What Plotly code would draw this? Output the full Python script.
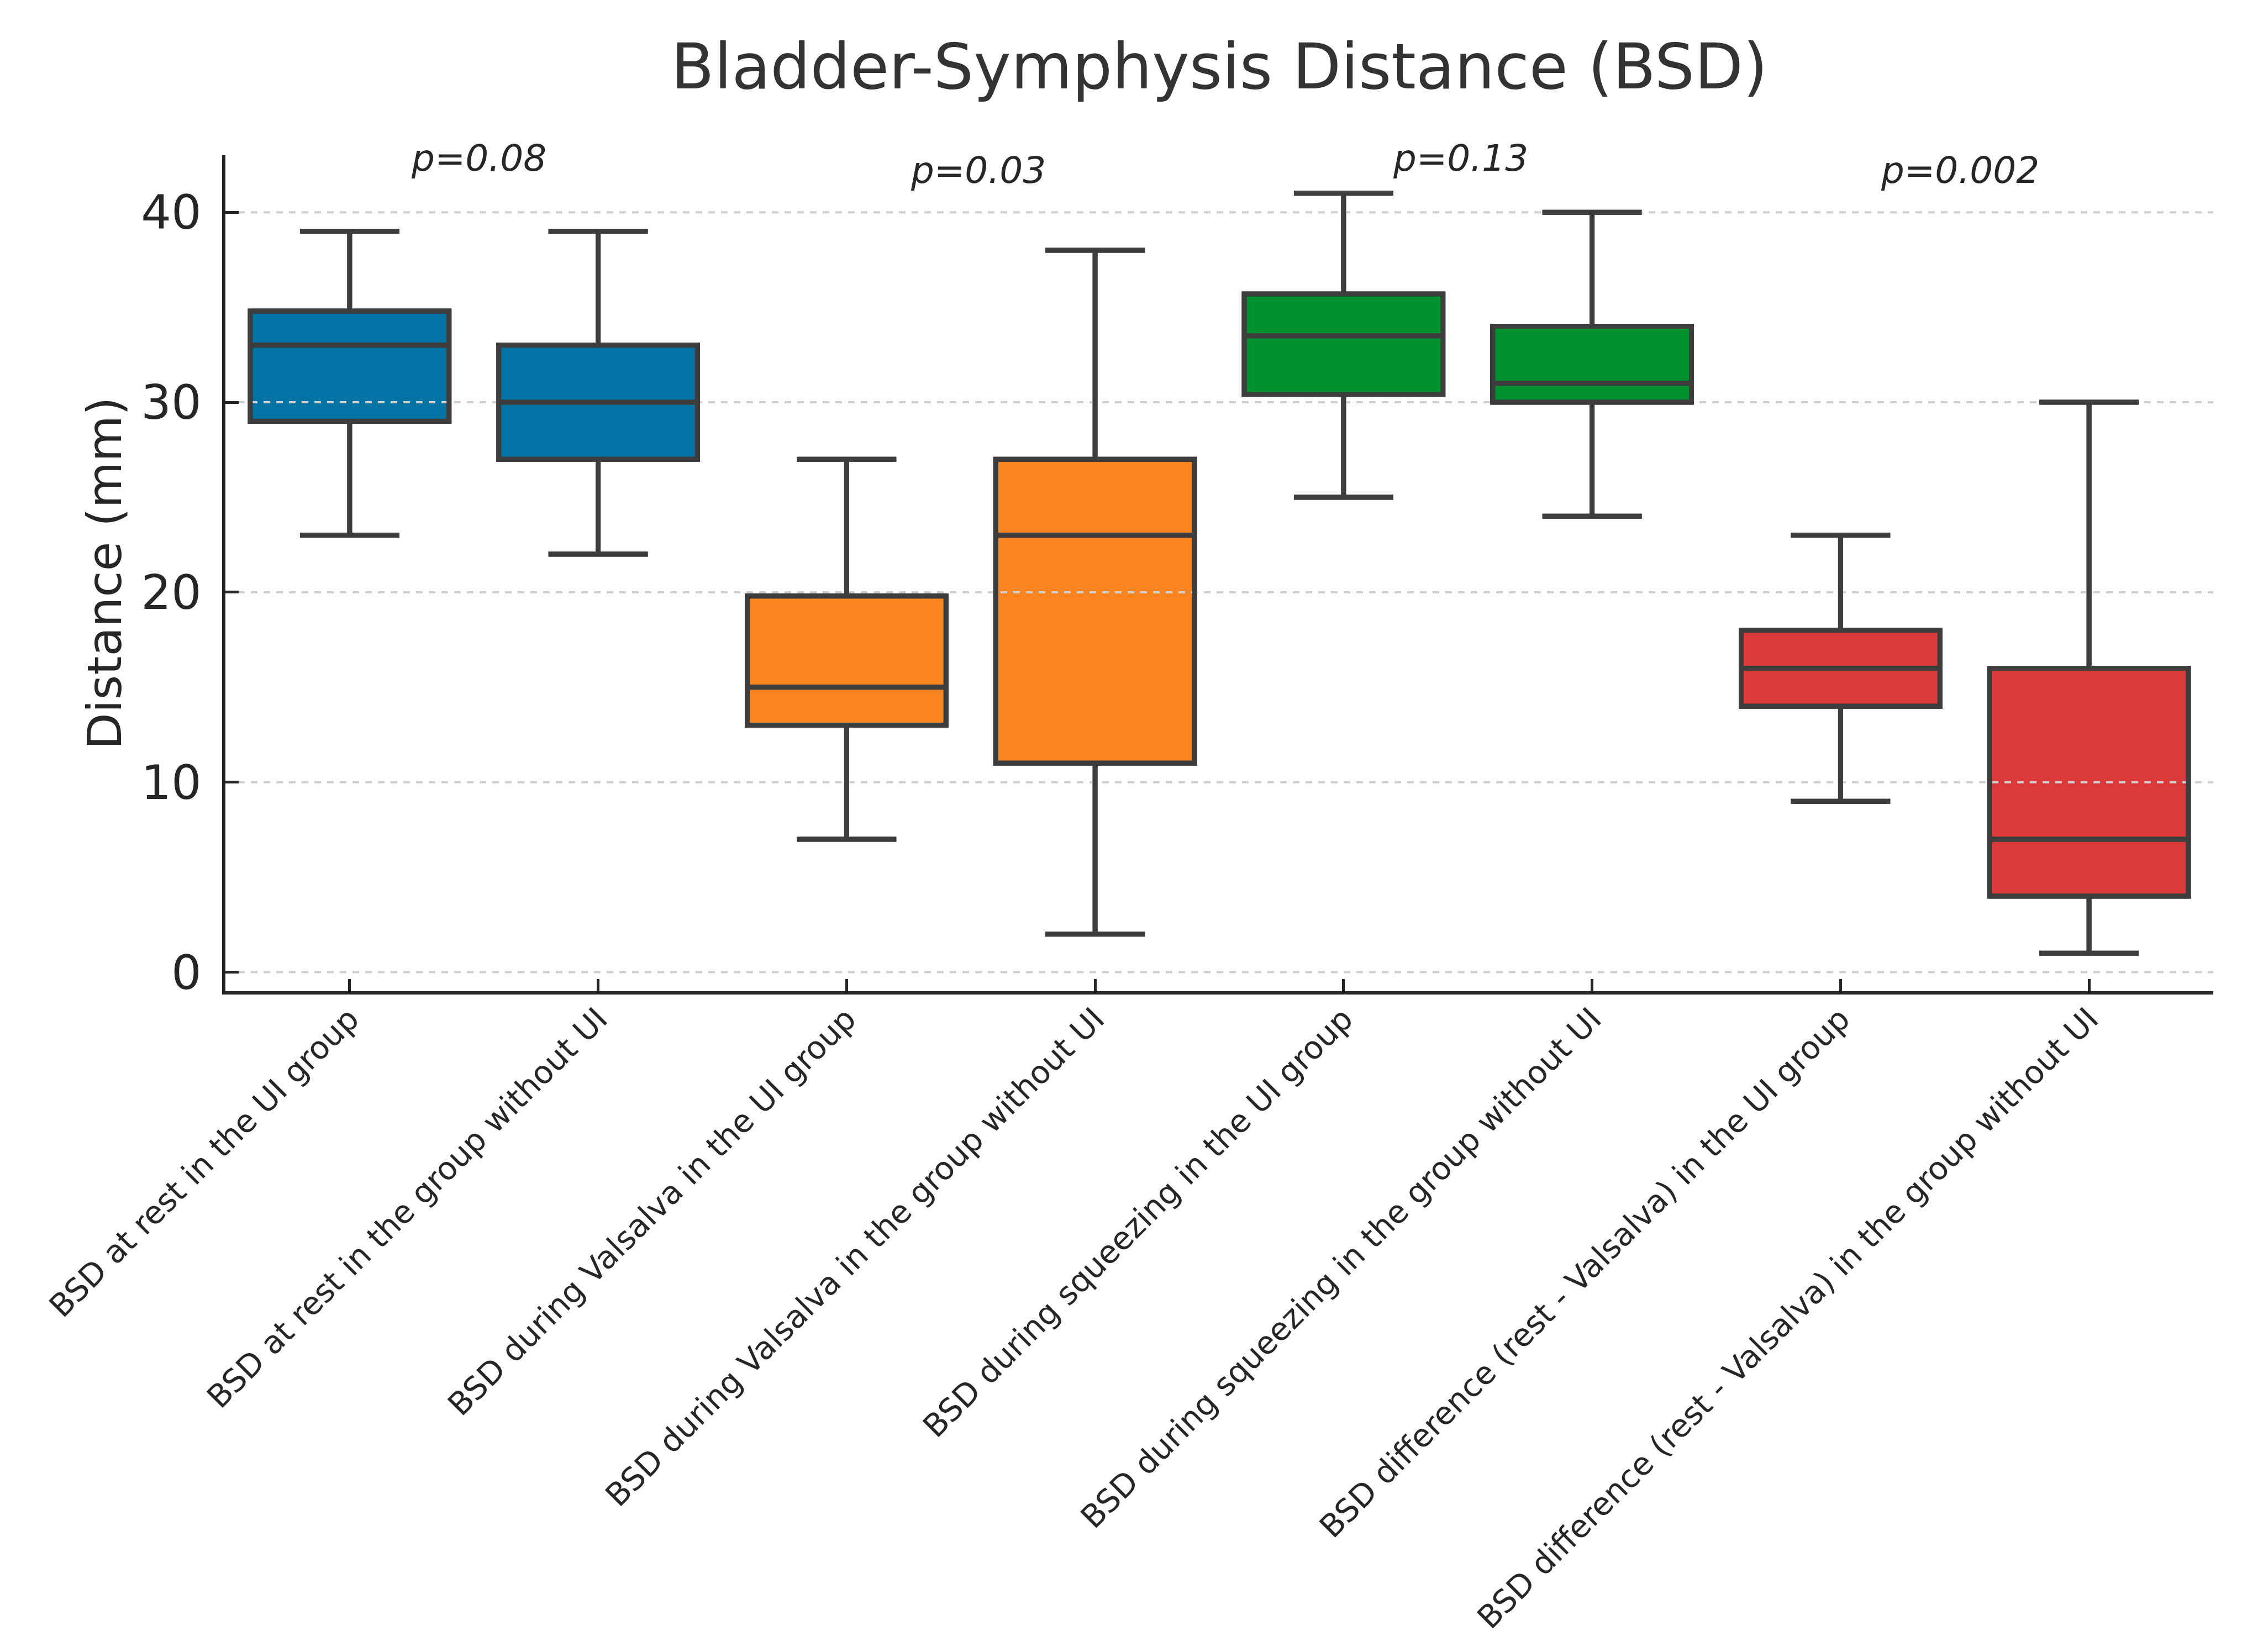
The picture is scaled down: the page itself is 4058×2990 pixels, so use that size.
import plotly.graph_objects as go

categories = [
    "BSD at rest in the UI group",
    "BSD at rest in the group without UI",
    "BSD during Valsalva in the UI group",
    "BSD during Valsalva in the group without UI",
    "BSD during squeezing in the UI group",
    "BSD during squeezing in the group without UI",
    "BSD difference (rest - Valsalva) in the UI group",
    "BSD difference (rest - Valsalva) in the group without UI",
]
lower_whisker = [23, 22, 7, 2, 25, 24, 9, 1]
q1 = [29, 27, 13, 11, 30.4, 30, 14, 4]
median = [33, 30, 15, 23, 33.5, 31, 16, 7]
q3 = [34.8, 33, 19.8, 27, 35.7, 34, 18, 16]
upper_whisker = [39, 39, 27, 38, 41, 40, 23, 30]

group_colors = ["#0173A5", "#FA841F", "#01912F", "#DC3A3A"]
p_labels = ["p=0.08", "p=0.03", "p=0.13", "p=0.002"]
p_label_x = [0.52, 2.53, 4.47, 6.48]
p_label_y = [42.85, 42.2, 42.85, 42.2]

y_ticks = [0, 10, 20, 30, 40]
y_range = [-1, 43]
x_range = [-0.5, 7.5]

FONT = "DejaVu Sans"
DARK = "#262626"
EDGE = "#3d3d3d"

W, H = 4050, 2982


def box_trace(idx, fill, yaxis):
    return go.Box(
        x=idx,
        q1=[q1[i] for i in idx],
        median=[median[i] for i in idx],
        q3=[q3[i] for i in idx],
        lowerfence=[lower_whisker[i] for i in idx],
        upperfence=[upper_whisker[i] for i in idx],
        fillcolor=fill,
        line=dict(color=EDGE, width=9),
        width=0.8,
        whiskerwidth=0.5,
        boxpoints=False,
        showlegend=False,
        hoverinfo="skip",
        yaxis=yaxis,
    )


fig = go.Figure()
# filled boxes
for g, color in enumerate(group_colors):
    fig.add_trace(box_trace([2 * g, 2 * g + 1], color, "y"))

# dashed horizontal gridlines: above the box fill, below the box lines
for yv in y_ticks:
    fig.add_trace(go.Scatter(
        x=x_range, y=[yv, yv], mode="lines",
        line=dict(color="#cfcfcf", width=4, dash="12px,11px"),
        showlegend=False, hoverinfo="skip",
    ))

# box outlines, medians, whiskers and caps on an overlaid axis (drawn on top)
for g in range(len(group_colors)):
    fig.add_trace(box_trace([2 * g, 2 * g + 1], "rgba(0,0,0,0)", "y2"))

for txt, xv, yv in zip(p_labels, p_label_x, p_label_y):
    fig.add_annotation(x=xv, y=yv, xref="x", yref="y", text="<i>" + txt + "</i>",
                       showarrow=False, xanchor="center", yanchor="middle",
                       font=dict(family=FONT, size=66, color=DARK))

fig.update_layout(
    width=W, height=H,
    paper_bgcolor="white", plot_bgcolor="white",
    margin=dict(l=400, r=52, t=273, b=1196, autoexpand=False),
    boxmode="overlay",
    font=dict(family=FONT, color=DARK),
    title=dict(text="Bladder-Symphysis Distance (BSD)", x=0.5, xref="paper", xanchor="center",
               y=1 - 112 / H, yref="container", yanchor="middle",
               font=dict(family=FONT, size=114, color="#333333")),
    yaxis2=dict(overlaying="y", range=y_range, visible=False, showgrid=False,
                zeroline=False, automargin=False),
)
fig.update_xaxes(
    range=x_range, tickmode="array", tickvals=list(range(len(categories))), ticktext=categories,
    tickangle=-45, tickfont=dict(family=FONT, size=57, color=DARK),
    showline=True, linecolor=DARK, linewidth=6, mirror=False,
    ticks="inside", ticklen=22, tickwidth=5, tickcolor=DARK,
    showgrid=False, zeroline=False, ticklabelstandoff=-12, automargin=False,
)
fig.update_layout(yaxis=dict(
    range=y_range, tickmode="array", tickvals=y_ticks,
    tickfont=dict(family=FONT, size=86, color=DARK),
    showline=True, linecolor=DARK, linewidth=6,
    ticks="inside", ticklen=24, tickwidth=5, tickcolor=DARK,
    showgrid=False, zeroline=False, ticklabelstandoff=20, automargin=False,
    title=dict(text="Distance (mm)", font=dict(family=FONT, size=86, color=DARK), standoff=9),
))

fig.write_html("out.html")
